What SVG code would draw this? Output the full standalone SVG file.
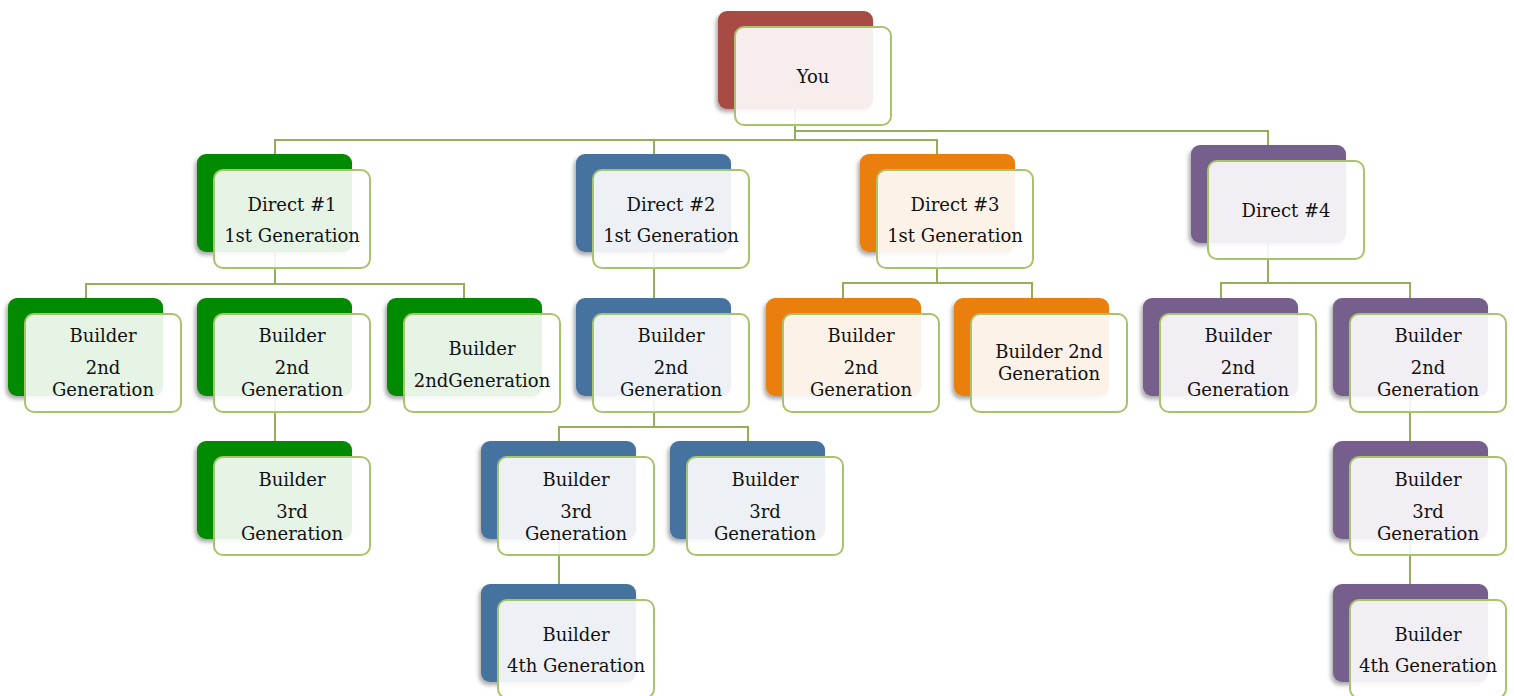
<svg xmlns="http://www.w3.org/2000/svg" width="1514" height="696" viewBox="0 0 1514 696">
<defs>
<style>
.bg{fill:#fff}
.conn{fill:none;stroke:#93AF59;stroke-width:2}
.back{filter:url(#sh)}
.red{fill:#A94B44}.green{fill:#008A00}.blue{fill:#44729F}.orange{fill:#EB7F07}.purple{fill:#765F8C}
.front{fill:#fff;fill-opacity:0.9;stroke:#A6C46C;stroke-width:2}
text{font-family:"DejaVu Serif","Liberation Serif",serif;font-size:18px;fill:#111;text-anchor:middle}
</style>
<filter id="sh" x="-10%" y="-10%" width="125%" height="130%">
<feDropShadow dx="-2" dy="3" stdDeviation="2" flood-color="#000" flood-opacity="0.35"/>
</filter>
<rect id="bk" width="155" height="98" rx="9"/>
<rect id="fr" x="17" y="16" width="156" height="98" rx="9"/>
</defs>
<rect class="bg" width="1514" height="696"/>
<g id="connectors" class="conn">
<path d="M795 109V140M795 131H1268V145M275 154V140H937V154M654 140V154"/>
<path d="M275 252V284M86 298V284H464V298"/>
<path d="M654 252V298"/>
<path d="M937 252V283M843 298V283H1032V298"/>
<path d="M1268 243V283M1221 298V283H1410V298"/>
<path d="M275 396V441"/>
<path d="M654 396V427M559 441V427H748V441"/>
<path d="M1410 396V441"/>
<path d="M559 539V584M1410 539V584"/>
</g>
<g id="you" transform="translate(718 11)"><use href="#bk" class="back red"/><use href="#fr" class="front"/><text x="95" y="72">You</text></g>
<g id="direct1" transform="translate(197 154)"><use href="#bk" class="back green"/><use href="#fr" class="front"/><text x="95" y="57">Direct #1</text><text x="95" y="88">1st Generation</text></g>
<g id="direct2" transform="translate(576 154)"><use href="#bk" class="back blue"/><use href="#fr" class="front"/><text x="95" y="57">Direct #2</text><text x="95" y="88">1st Generation</text></g>
<g id="direct3" transform="translate(860 154)"><use href="#bk" class="back orange"/><use href="#fr" class="front"/><text x="95" y="57">Direct #3</text><text x="95" y="88">1st Generation</text></g>
<g id="direct4" transform="translate(1191 145)"><use href="#bk" class="back purple"/><use href="#fr" class="front"/><text x="95" y="72">Direct #4</text></g>
<g id="g1" transform="translate(8 298)"><use href="#bk" class="back green"/><use href="#fr" class="front"/><text x="95" y="44">Builder</text><text x="95" y="76">2nd</text><text x="95" y="98">Generation</text></g>
<g id="g2" transform="translate(197 298)"><use href="#bk" class="back green"/><use href="#fr" class="front"/><text x="95" y="44">Builder</text><text x="95" y="76">2nd</text><text x="95" y="98">Generation</text></g>
<g id="g3" transform="translate(387 298)"><use href="#bk" class="back green"/><use href="#fr" class="front"/><text x="95" y="57">Builder</text><text x="95" y="89">2ndGeneration</text></g>
<g id="b1" transform="translate(576 298)"><use href="#bk" class="back blue"/><use href="#fr" class="front"/><text x="95" y="44">Builder</text><text x="95" y="76">2nd</text><text x="95" y="98">Generation</text></g>
<g id="o1" transform="translate(766 298)"><use href="#bk" class="back orange"/><use href="#fr" class="front"/><text x="95" y="44">Builder</text><text x="95" y="76">2nd</text><text x="95" y="98">Generation</text></g>
<g id="o2" transform="translate(954 298)"><use href="#bk" class="back orange"/><use href="#fr" class="front"/><text x="95" y="60">Builder 2nd</text><text x="95" y="82">Generation</text></g>
<g id="p1" transform="translate(1143 298)"><use href="#bk" class="back purple"/><use href="#fr" class="front"/><text x="95" y="44">Builder</text><text x="95" y="76">2nd</text><text x="95" y="98">Generation</text></g>
<g id="p2" transform="translate(1333 298)"><use href="#bk" class="back purple"/><use href="#fr" class="front"/><text x="95" y="44">Builder</text><text x="95" y="76">2nd</text><text x="95" y="98">Generation</text></g>
<g id="g4" transform="translate(197 441)"><use href="#bk" class="back green"/><use href="#fr" class="front"/><text x="95" y="45">Builder</text><text x="95" y="77">3rd</text><text x="95" y="99">Generation</text></g>
<g id="b2" transform="translate(481 441)"><use href="#bk" class="back blue"/><use href="#fr" class="front"/><text x="95" y="45">Builder</text><text x="95" y="77">3rd</text><text x="95" y="99">Generation</text></g>
<g id="b3" transform="translate(670 441)"><use href="#bk" class="back blue"/><use href="#fr" class="front"/><text x="95" y="45">Builder</text><text x="95" y="77">3rd</text><text x="95" y="99">Generation</text></g>
<g id="p3" transform="translate(1333 441)"><use href="#bk" class="back purple"/><use href="#fr" class="front"/><text x="95" y="45">Builder</text><text x="95" y="77">3rd</text><text x="95" y="99">Generation</text></g>
<g id="b4" transform="translate(481 584)"><use href="#bk" class="back blue"/><use href="#fr" class="front"/><text x="95" y="57">Builder</text><text x="95" y="88">4th Generation</text></g>
<g id="p4" transform="translate(1333 584)"><use href="#bk" class="back purple"/><use href="#fr" class="front"/><text x="95" y="57">Builder</text><text x="95" y="88">4th Generation</text></g>
</svg>
